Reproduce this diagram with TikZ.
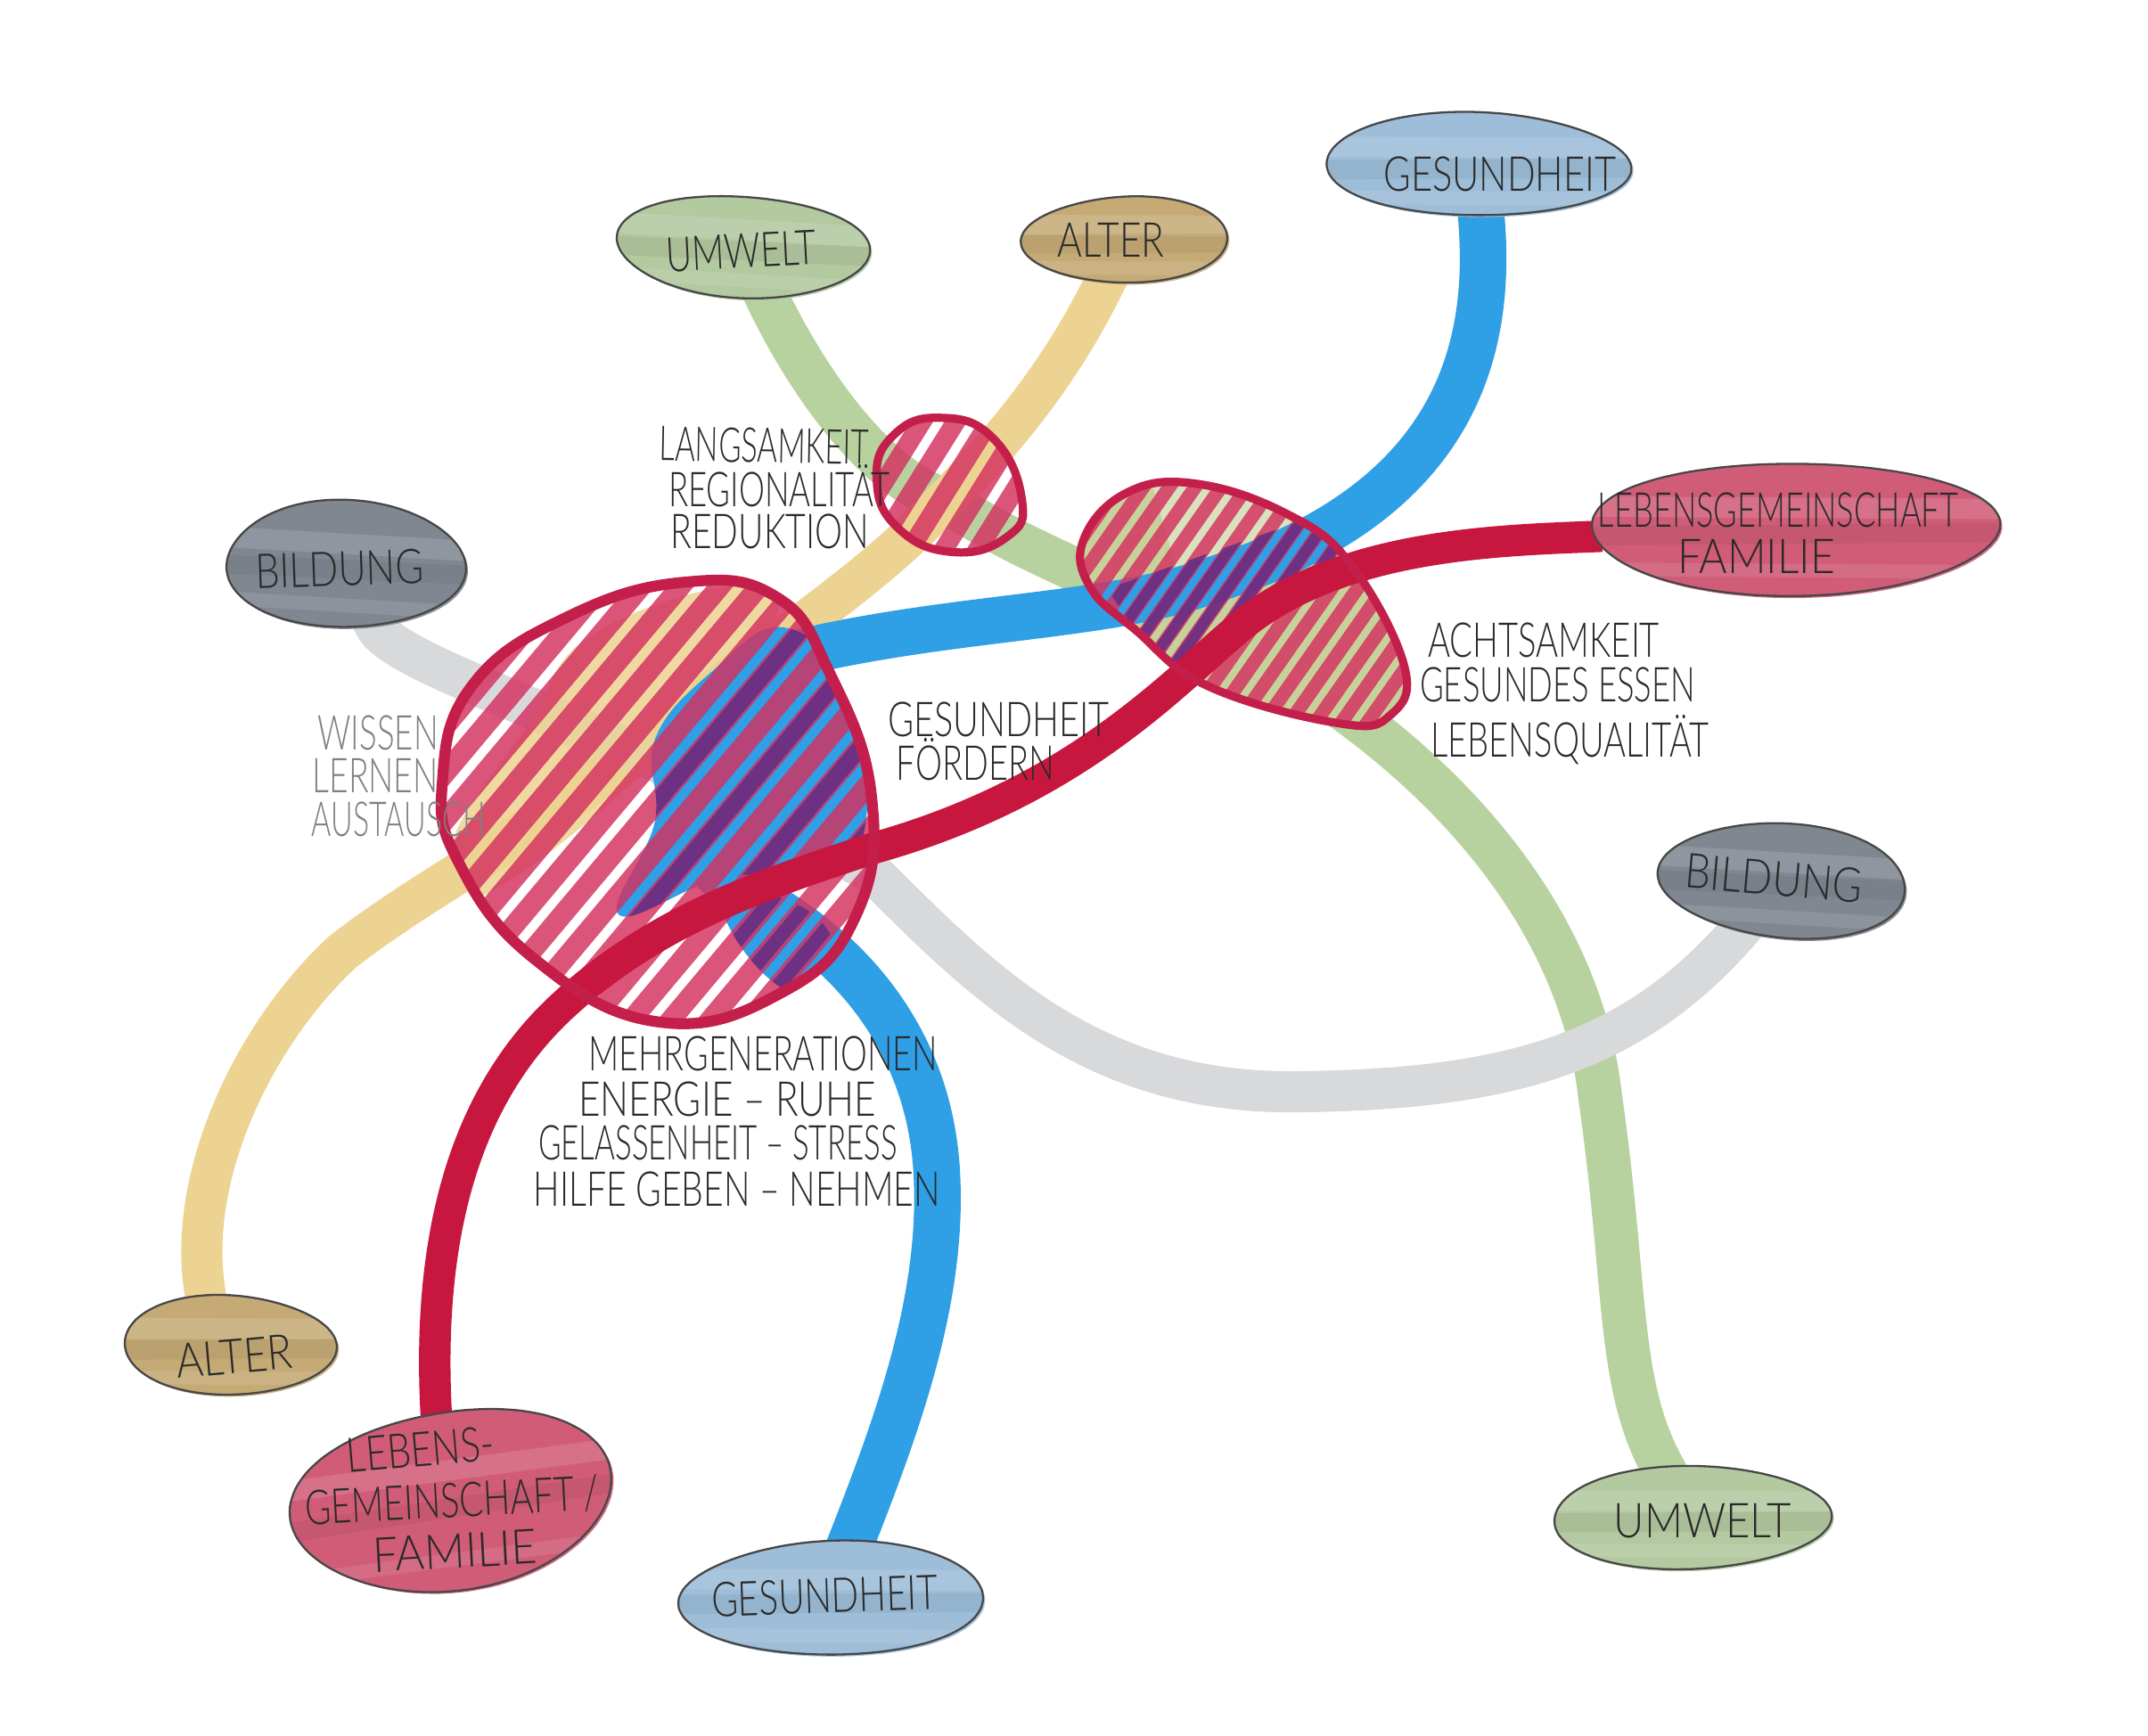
\documentclass[tikz,border=0pt]{standalone}
\usepackage{fontspec}
\usetikzlibrary{shapes.geometric}
\newfontfamily\handfont[UprightFont=* Light]{Lato}
\newsavebox\hwbox
\newcommand\hw[2]{\sbox\hwbox{\handfont\fontsize{20}{24}\selectfont #2}%
  \pgfmathsetmacro\hwx{#1*0.56906/\the\wd\hwbox}\ht\hwbox=14.4pt \dp\hwbox=0pt \scalebox{\hwx}[1]{\usebox\hwbox}}
\definecolor{cGreen}{HTML}{B7D29E}
\definecolor{cYellow}{HTML}{EDD391}
\definecolor{cGrey}{HTML}{D8D9DB}
\definecolor{cBlue}{HTML}{2F9FE6}
\definecolor{cRed}{HTML}{C8173F}
\definecolor{cPink}{HTML}{D4305F}
\definecolor{cHub}{HTML}{C41F4A}
\definecolor{cPurple}{HTML}{5F2C85}
\definecolor{cInk}{HTML}{2A2A2A}
\definecolor{oBlue}{HTML}{9DBDD8}
\definecolor{oGreen}{HTML}{B3C9A0}
\definecolor{oTan}{HTML}{C5AA76}
\definecolor{oSlate}{HTML}{808791}
\definecolor{oRose}{HTML}{D05C78}
\tikzset{
  bandline/.style={line width=#1*0.02cm,line cap=rect},
  anchorblob/.style n args={2}{shape=ellipse,inner sep=0pt,minimum width=#1*0.04cm,minimum height=#2*0.04cm},
  handtxt/.style={inner sep=0pt,text=cInk},
  paletxt/.style={inner sep=0pt,text=black!50},
  huboutline/.style={draw=cHub,line width=#1*0.02cm,line join=round},
  bloboutline/.style={draw=black!72,line width=0.85pt},
}
\newcommand\hatchlines[8]{%
  \foreach \k in {#3,...,#4}{%
    \draw[#7,line width=#6*0.02cm,opacity=.82]
      ({#1+\k*#5*sin(#8)-400*cos(#8)},{#2+\k*#5*cos(#8)+400*sin(#8)}) --
      ({#1+\k*#5*sin(#8)+400*cos(#8)},{#2+\k*#5*cos(#8)-400*sin(#8)});
  }}
\newcommand\blobpath[3]{plot[smooth cycle,domain=0:350,samples=36] ({#1*cos(\x)*(1+.028*sin(2*\x+#3)+.02*sin(3*\x+2*#3))},{#2*sin(\x)*(1+.028*sin(2*\x+#3)+.02*sin(3*\x+2*#3))})}
% node name, rx, ry, phase, rotation, colour
\newcommand\drawblob[6]{%
  \begin{scope}[shift={(#1)},rotate=#5]
    \fill[#6,opacity=.9,xshift=1.5*0.02cm,yshift=-1.5*0.02cm] \blobpath{#2}{#3}{#4};
    \fill[#6] \blobpath{#2}{#3}{#4};
    \begin{scope}
      \clip \blobpath{#2}{#3}{#4};
      \draw[white,opacity=.13,line width=15*0.02cm] (-200,{-.35*#3}) -- (200,{-.30*#3});
      \draw[black,opacity=.05,line width=14*0.02cm] (-200,{.12*#3}) -- (200,{.05*#3});
      \draw[white,opacity=.10,line width=10*0.02cm] (-200,{.62*#3}) -- (200,{.68*#3});
    \end{scope}
    \draw[bloboutline] \blobpath{#2}{#3}{#4};
  \end{scope}}
\newcommand\hubApath{plot[smooth cycle,tension=.75] coordinates {(500,425) (567,436) (605,490) (636,580) (625,668) (570,725) (480,746) (390,700) (335,630) (323,570) (345,500) (415,450)}}
\newcommand\hubSpath{plot[smooth cycle,tension=.8] coordinates {(686,305) (725,320) (746,365) (735,392) (695,403) (655,385) (640,350) (652,318)}}
\newcommand\hubMpath{plot[smooth cycle,tension=.7] coordinates {(791,394) (822,360) (872,353) (939,375) (986,412) (1025,486) (1015,522) (977,528) (882,501) (829,460) (796,429)}}
\newcommand\blueApath{plot[smooth cycle,tension=.7] coordinates {(572,458) (620,505) (632,600) (600,640) (530,640) (452,668) (478,600) (478,540) (520,490)}}
\newcommand\blueBpath{plot[smooth cycle,tension=.7] coordinates {(530,650) (590,665) (612,705) (580,725) (540,690)}}
\newcommand\yellowApath{plot[smooth cycle,tension=.7] coordinates {(430,465) (535,428) (565,455) (480,555) (350,655) (330,615) (385,530)}}
\begin{document}
\begin{tikzpicture}[x=0.02cm,y=-0.02cm]
\useasboundingbox (0,0) rectangle (1568,1267);
\fill[white] (0,0) rectangle (1568,1267);

% way points
\coordinate (hubA) at (480,585);
\coordinate (hubS) at (693,355);
\coordinate (hubM) at (908,440);
\coordinate (gm) at (900,468);
\coordinate (gn) at (1168,800);
\coordinate (ys) at (690,365);
\coordinate (ya) at (460,550);
\coordinate (yb) at (250,695);
\coordinate (bm) at (880,425);
\coordinate (ba) at (590,475);
\coordinate (bb) at (540,650);
\coordinate (bc) at (684,860);
\coordinate (gb) at (640,640);
\coordinate (gc) at (950,797);
\coordinate (rm) at (900,462);
\coordinate (rb) at (635,620);
\coordinate (rc) at (410,735);

% named terminal ovals (their ink is drawn later, above the bands)
\node[anchorblob={110}{38}] (gesT) at (1078,120) {};
\node[anchorblob={90}{38}] (umwT) at (542,180) {};
\node[anchorblob={74}{32}] (altT) at (822,175) {};
\node[anchorblob={88}{46}] (bilL) at (252,412) {};
\node[anchorblob={153}{47}] (lebR) at (1310,386) {};
\node[anchorblob={92}{41}] (bilR) at (1302,643) {};
\node[anchorblob={76}{37}] (altB) at (167,982) {};
\node[anchorblob={115}{67}] (lebB) at (330,1095) {};
\node[anchorblob={110}{42}] (gesB) at (608,1167) {};
\node[anchorblob={103}{37}] (umwB) at (1234,1108) {};

% pale bands
\draw[bandline=32,cGreen] (umwT) .. controls (590,280) and (640,350) .. (ys) .. controls (740,400) and (820,430) .. (gm) .. controls (1010,525) and (1150,640) .. (gn) .. controls (1188,940) and (1180,1010) .. (umwB);
\draw[bandline=30,cYellow] (altT) .. controls (780,260) and (745,310) .. (ys) .. controls (640,420) and (590,450) .. (ya) .. controls (380,615) and (310,648) .. (yb) .. controls (185,755) and (135,860) .. (altB.115);
\draw[bandline=30,cGrey] (bilL) .. controls (290,490) and (480,540) .. (gb) .. controls (720,720) and (800,800) .. (gc) .. controls (1100,795) and (1190,770) .. (bilR);

% underlays
\begin{scope}
  \clip \hubMpath;
  \fill[cGreen!70!cYellow] \hubMpath;
  \fill[white,opacity=.35] (840,350) -- (960,350) -- (960,420) -- (860,420) -- cycle;
\end{scope}
\begin{scope}
  \clip \hubApath;
  \fill[cYellow,opacity=.85] \yellowApath;
\end{scope}

% blue band
\draw[bandline=34,cBlue] (gesT) .. controls (1090,260) and (1060,370) .. (bm) .. controls (810,450) and (700,450) .. (ba) .. controls (500,510) and (460,600) .. (bb) .. controls (620,690) and (680,760) .. (bc) .. controls (688,950) and (655,1040) .. (gesB.72);
\begin{scope}
  \clip \hubApath;
  \fill[cBlue] \blueApath;
  \fill[cBlue] \blueBpath;
\end{scope}

% hatching
\begin{scope}
  \clip \hubApath;
  \hatchlines{480}{585}{-10,-9}{10}{22}{15}{cPink}{50}
\end{scope}
\begin{scope}
  \clip \hubApath; \clip \blueApath;
  \hatchlines{480}{585}{-10,-8}{10}{22}{12}{cPurple}{50}
\end{scope}
\begin{scope}
  \clip \hubApath; \clip \blueBpath;
  \hatchlines{480}{585}{-10,-9}{10}{22}{10}{cPurple}{50}
\end{scope}
\begin{scope}
  \clip \hubSpath;
  \hatchlines{693}{355}{-5,-4}{5}{21}{14}{cPink}{58}
\end{scope}
\begin{scope}
  \clip \hubMpath;
  \hatchlines{908}{440}{-11,-10}{11}{15.5}{10}{cPink}{55}
\end{scope}
\begin{scope}
  \clip \hubMpath;
  \clip (808,430) -- (965,375) -- (990,412) -- (850,490) -- cycle;
  \hatchlines{908}{440}{-11,-10}{11}{15.5}{8}{cPurple}{55}
\end{scope}

% red band
\draw[bandline=23,cRed] (lebR) .. controls (1080,395) and (970,400) .. (rm) .. controls (850,505) and (780,580) .. (rb) .. controls (560,645) and (480,670) .. (rc) .. controls (340,800) and (312,900) .. (lebB.100);

% hub outlines
\draw[huboutline=8] \hubApath;
\draw[huboutline=6] \hubSpath;
\draw[huboutline=6] \hubMpath;

% ovals
\drawblob{gesT}{110}{38}{20}{0}{oBlue}
\drawblob{umwT}{90}{38}{80}{-3}{oGreen}
\drawblob{altT}{74}{32}{140}{0}{oTan}
\drawblob{bilL}{88}{46}{200}{-3}{oSlate}
\drawblob{lebR}{153}{47}{260}{0}{oRose}
\drawblob{bilR}{92}{41}{320}{-3}{oSlate}
\drawblob{altB}{76}{37}{40}{0}{oTan}
\drawblob{lebB}{115}{67}{100}{8}{oRose}
\drawblob{gesB}{110}{42}{160}{0}{oBlue}
\drawblob{umwB}{103}{37}{220}{0}{oGreen}

% oval labels
\node[handtxt] (tGesT) at (1095,127) {\hw{170}{GESUNDHEIT}};
\node[handtxt,rotate=3] (tUmwT) at (541,183) {\hw{110}{UMWELT}};
\node[handtxt] (tAltT) at (811,175) {\hw{78}{ALTER}};
\node[handtxt,rotate=2] (tBilL) at (248,415) {\hw{123}{BILDUNG}};
\node[handtxt] (tLebR) at (1298,372) {\hw{263}{LEBENSGEMEINSCHAFT}};
\node[handtxt] (tFamR) at (1282,406) {\hw{115}{FAMILIE}};
\node[handtxt,rotate=-5] (tBilR) at (1295,641) {\hw{130}{BILDUNG}};
\node[handtxt,rotate=5] (tAltB) at (171,990) {\hw{85}{ALTER}};
\node[handtxt,rotate=5] (tLeb1) at (307,1058) {\hw{108}{LEBENS-}};
\node[handtxt,rotate=3] (tLeb2) at (330,1095) {\hw{215}{GEMEINSCHAFT /}};
\node[handtxt,rotate=3] (tLeb3) at (332,1132) {\hw{120}{FAMILIE}};
\node[handtxt,rotate=2] (tGesB) at (602,1165) {\hw{165}{GESUNDHEIT}};
\node[handtxt] (tUmwB) at (1243,1110) {\hw{130}{UMWELT}};

% hub annotations
\node[handtxt,rotate=-1] (a1) at (558,325) {\hw{153}{LANGSAMKEIT}};
\node[handtxt] (a2) at (569,357) {\hw{162}{REGIONALITÄT}};
\node[handtxt] (a3) at (562,388) {\hw{145}{REDUKTION}};
\node[handtxt] (b1) at (1127,467) {\hw{169}{ACHTSAMKEIT}};
\node[handtxt] (b2) at (1137,500) {\hw{201}{GESUNDES ESSEN}};
\node[handtxt] (b3) at (1146,540) {\hw{203}{LEBENSQUALITÄT}};
\node[handtxt] (c1) at (729,525) {\hw{162}{GESUNDHEIT}};
\node[handtxt] (c2) at (712,557) {\hw{115}{FÖRDERN}};
\node[paletxt] (d1) at (276,535) {\hw{88}{WISSEN}};
\node[paletxt] (d2) at (274,566) {\hw{92}{LERNEN}};
\node[paletxt] (d3) at (291,598) {\hw{127}{AUSTAUSCH}};
\node[handtxt] (e1) at (557,769) {\hw{255}{MEHRGENERATIONEN}};
\node[handtxt] (e2) at (531,802) {\hw{217}{ENERGIE – RUHE}};
\node[handtxt] (e3) at (524,834) {\hw{262}{GELASSENHEIT – STRESS}};
\node[handtxt] (e4) at (538,868) {\hw{297}{HILFE GEBEN – NEHMEN}};
\end{tikzpicture}
\end{document}
